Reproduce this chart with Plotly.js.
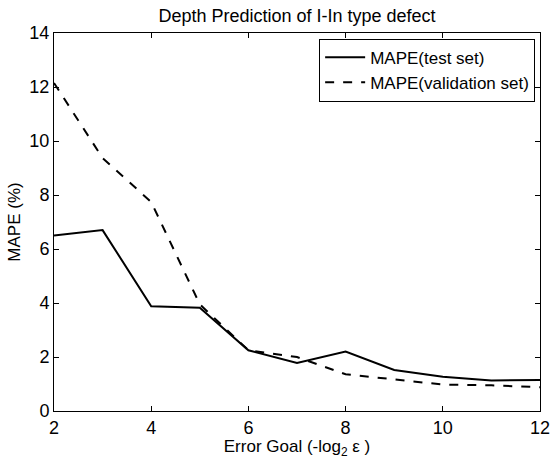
<!DOCTYPE html>
<html><head><meta charset="utf-8">
<script src="https://cdn.plot.ly/plotly-3.0.1.min.js"></script>
<style>html,body{margin:0;padding:0;background:#fff}#c{width:550px;height:459px}</style>
</head><body><div id="c"></div>
<script>
const errorGoal = [2,3,4,5,6,7,8,9,10,11,12];
const mapeTest = [6.5,6.7,3.88,3.82,2.25,1.78,2.2,1.52,1.27,1.13,1.15];
const mapeValidation = [12.15,9.37,7.74,3.95,2.25,2.0,1.36,1.18,0.98,0.95,0.88];
const seriesNames = ['MAPE(test set)','MAPE(validation set)'];

const font = 'Liberation Sans, Arial, sans-serif';
const traces = [
  {x: errorGoal, y: mapeTest, name: seriesNames[0], mode:'lines', line:{color:'#000', width:2, dash:'solid'}},
  {x: errorGoal, y: mapeValidation, name: seriesNames[1], mode:'lines', line:{color:'#000', width:2, dash:'dash'}}
];
const axisCommon = {showgrid:false, zeroline:false, showline:true, linecolor:'#000', linewidth:1,
  mirror:'ticks', ticks:'inside', ticklen:5, tickcolor:'#000', ticklabeloverflow:'allow',
  tickfont:{family:font, size:18, color:'#000'}};
const layout = {
  width:550, height:459,
  margin:{l:54, r:10, t:33, b:48},
  paper_bgcolor:'#fff', plot_bgcolor:'#fff',
  title:{text:'Depth Prediction of I-In type defect', font:{family:font, size:18, color:'#000'}, x:0.5, xanchor:'center', y:0.966, yanchor:'middle', xref:'paper'},
  xaxis: Object.assign({}, axisCommon, {range:[2,12], dtick:2, tick0:2,
    title:{text:'Error Goal (-log<sub>2</sub> ε )', font:{family:font, size:17, color:'#000'}, standoff:1}}),
  yaxis: Object.assign({}, axisCommon, {range:[0,14], dtick:2, tick0:0,
    title:{text:'MAPE (%)', font:{family:font, size:17, color:'#000'}, standoff:4}}),
  showlegend:true,
  legend:{x:0.99, xanchor:'right', y:0.985, yanchor:'top', bgcolor:'#fff', bordercolor:'#000', borderwidth:1,
    font:{family:font, size:17, color:'#000'}, tracegroupgap:0, itemwidth:40}
};
Plotly.newPlot('c', traces, layout, {displayModeBar:false, staticPlot:true});
</script></body></html>
